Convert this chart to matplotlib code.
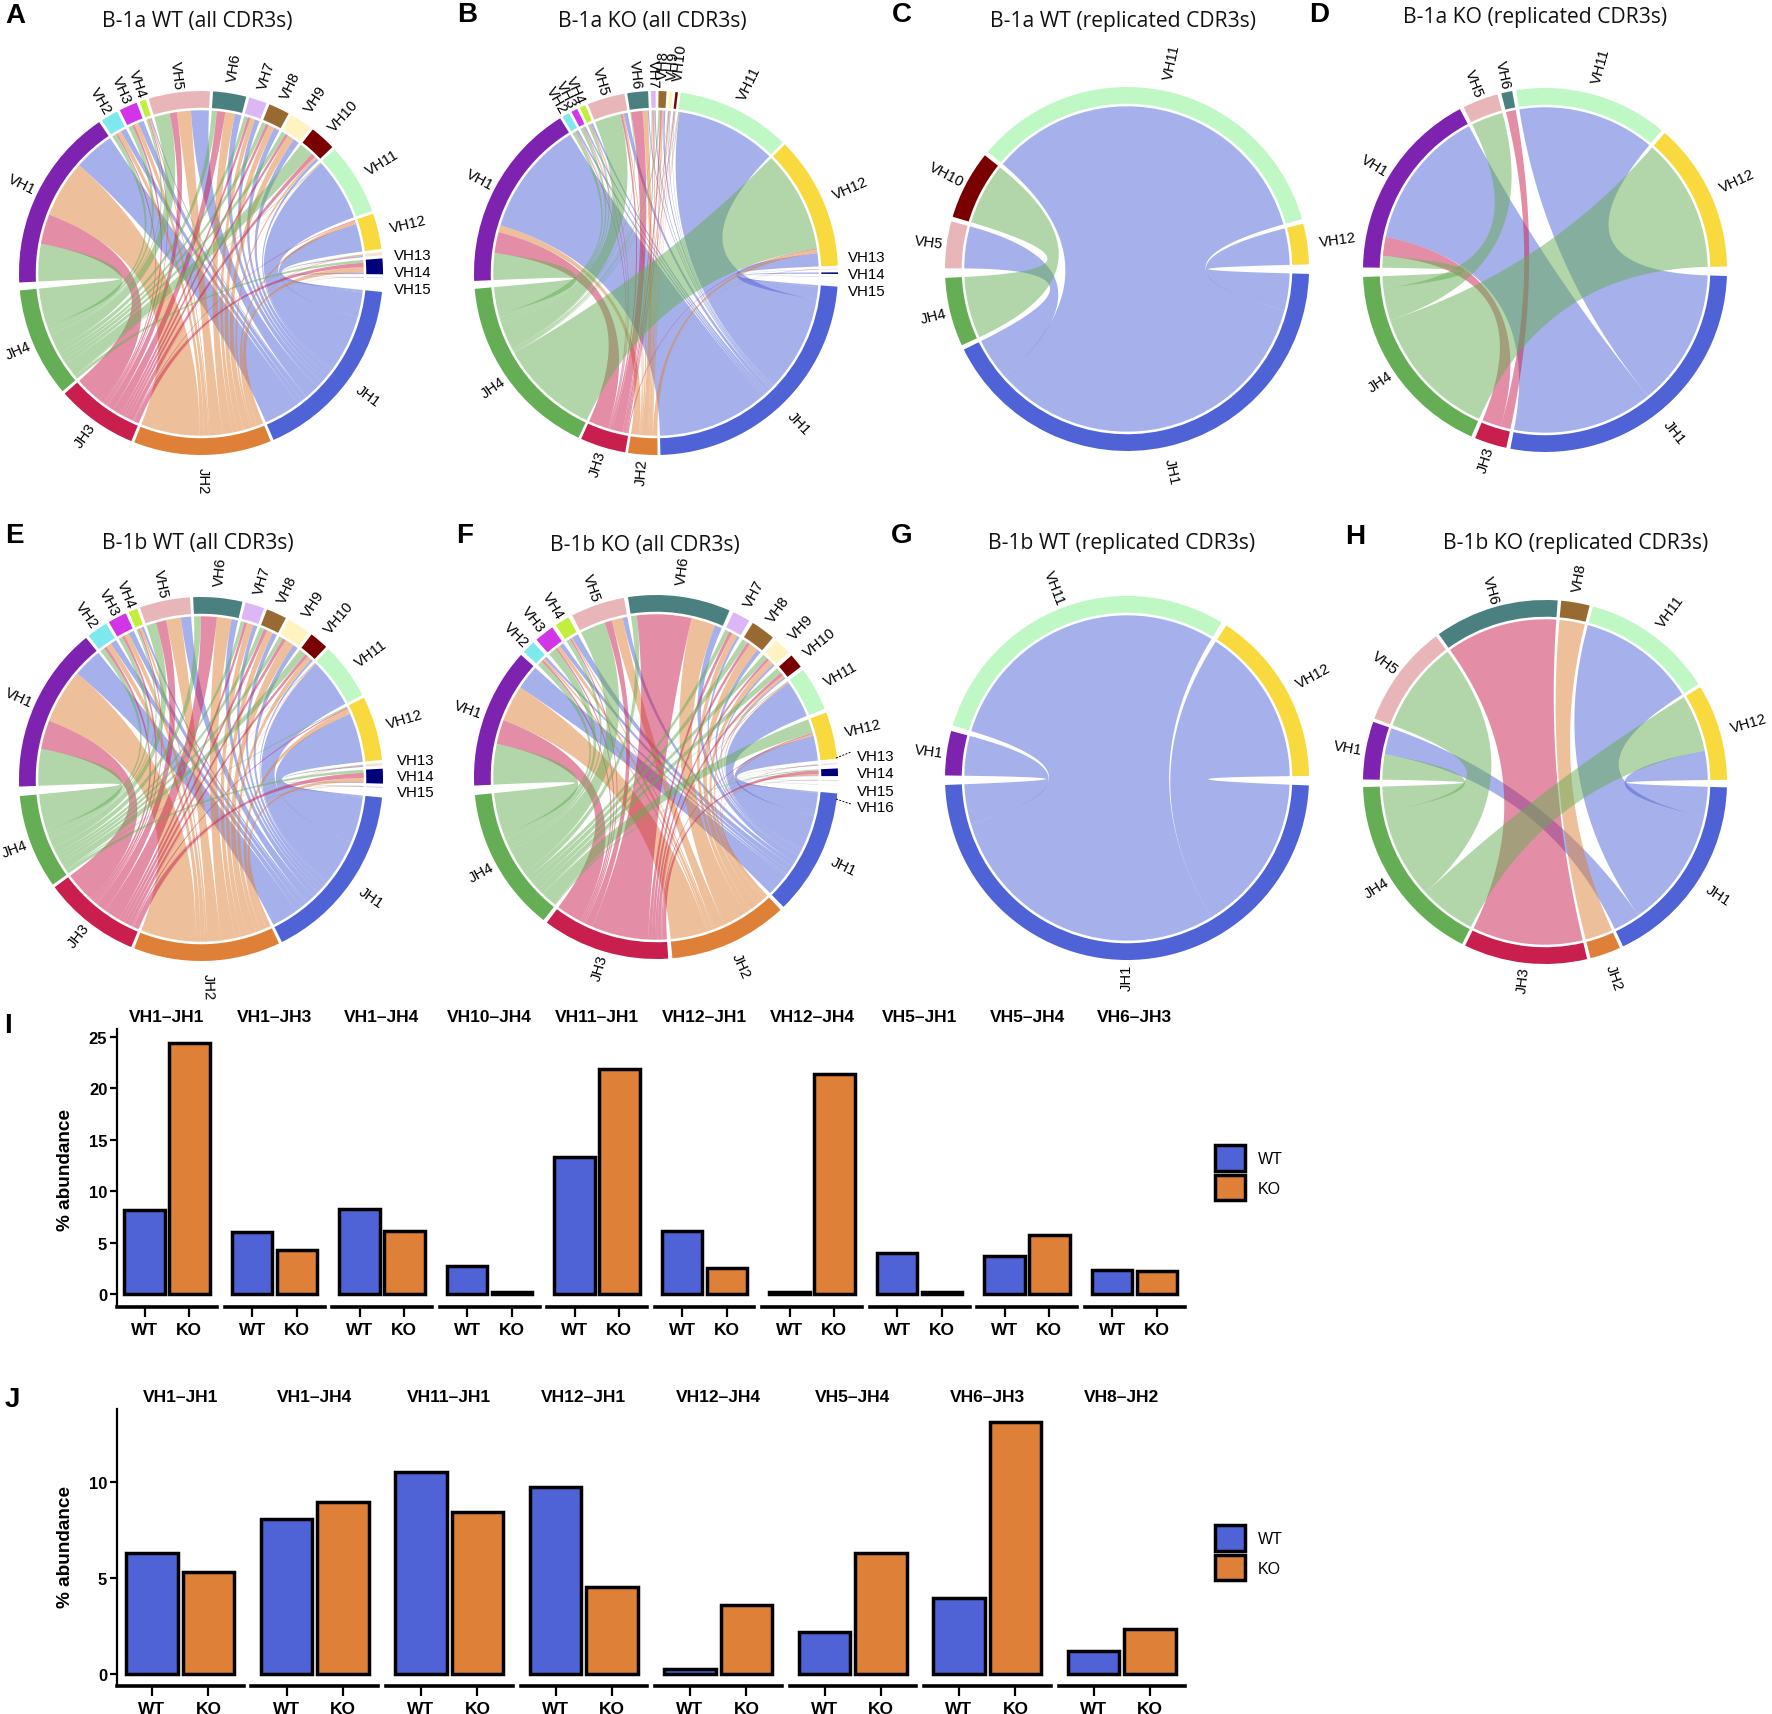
import numpy as np
import matplotlib
matplotlib.use('Agg')
import matplotlib.pyplot as plt
from matplotlib.patches import Wedge, Patch

W, H = 1772, 1715

# Chord panels: sector totals and VH x JH link tables
all_vh = ['VH%d' % i for i in range(1, 16)]
all_jh = ['JH1', 'JH2', 'JH3', 'JH4']

a_vh_totals = [59, 5.5, 5.8, 2, 19.5, 10.6, 5.7, 6.7, 7.1, 8.3, 22.8, 11.4, 1, 5, 0.3]
a_jh_totals = [60.5, 44, 26, 35]
a_links = [[14.5, 20.5, 10.7, 13.3], [2, 1.5, .5, 1.5], [2, 1.5, .8, 1.5], [.4, .5, .4, .7],
           [5.7, 4.5, 2.3, 5], [2.3, 3.5, 3, 1.8], [1.7, 1.7, 1, 1.3], [2, 2.2, 1, 1.5],
           [2.1, 2.5, 1, 1.5], [1, .8, 1.5, 5], [22.3, .1, .1, .3], [9.9, 1.2, .3, 0],
           [.4, .4, .1, .1], [.5, 2, 1.5, 1], [.1, .1, .05, .05]]

b_vh_totals = [60.5, 2.3, 2, 1.9, 11.9, 6.6, 1.5, 2.5, 1, .8, 36.2, 42.5, .3, .5, .1]
b_jh_totals = [84, 9.3, 14.5, 59.6]
b_links = [[41, 2.5, 7.5, 9.5], [.9, .2, .4, 1.5], [.7, .2, .3, 1.3], [.9, .2, .3, 1.1],
           [1.4, .5, .7, 9.3], [.4, 1.8, 3.9, .3], [.4, .4, .4, .3], [.6, .6, .7, .6],
           [.3, .3, .4, .2], [.2, .2, .4, .2], [35.7, .2, .1, .2], [4.6, 1.3, .3, 35.4],
           [.1, .1, .05, .05], [.5, 0, 0, 0], [.1, 0, 0, 0]]

c_vh = ['VH5', 'VH10', 'VH11', 'VH12']
c_jh = ['JH1', 'JH4']
c_vh_totals = [15, 22, 124, 13]
c_jh_totals = [152.3, 22]
c_links = [[15, 0], [0, 22], [124, 0], [13, 0]]

d_vh = ['VH1', 'VH5', 'VH6', 'VH11', 'VH12']
d_jh = ['JH1', 'JH3', 'JH4']
d_vh_totals = [61.4, 11.4, 3.5, 49, 47.8]
d_jh_totals = [99.2, 10.3, 64]
d_links = [[50.4, 6.8, 4.2], [0, 0, 11.4], [0, 3.5, 0], [49, 0, 0], [0, 0, 47.8]]

e_vh_totals = [53.1, 6.7, 6, 2.8, 16.1, 15.6, 6.1, 6.5, 7.6, 6, 18, 20.4, .8, 4.7, .4]
e_jh_totals = [57.6, 46.8, 30.9, 30]
e_links = [[10.4, 19.6, 10.3, 13.1], [2.2, 1.9, 1, 1.6], [2, 1.7, .9, 1.4], [.8, .8, .5, .7],
           [3.4, 5, 3.4, 3.3], [2.2, 5, 5.4, 2.3], [1.5, 2.3, 1, 1.3], [1.6, 2.2, 1.2, 1.5],
           [1.8, 3.2, 1.2, 1.4], [.7, 1.7, 1.1, 2.5], [17.5, .2, .1, .2], [17.5, 2, .5, .4],
           [.4, .2, .1, .1], [.3, 1.5, 1.8, 1.1], [.1, .1, .1, .1]]

f_vh = ['VH%d' % i for i in range(1, 17)]
f_vh_totals = [44.7, 4.2, 6.3, 4.7, 17.2, 32.6, 5.7, 7.8, 5.5, 4.6, 13.9, 14.9, .5, 2.4, .3, .1]
f_jh_totals = [40.2, 37.9, 40.6, 46]
f_links = [[8.7, 13, 8.6, 14.4], [.9, .7, .7, 1.8], [1.5, 1.3, .6, 2.9], [2.3, .5, .5, 1.4],
           [1.7, 4, 2.5, 9], [2.5, 8.5, 19, 2], [.9, 2, 1.2, 1.6], [1.4, 3.2, 1.1, 2],
           [.8, 2, .9, 1.8], [.5, .9, 1.1, 2.1], [13.2, .2, .2, .3], [8.7, .6, .4, 5],
           [.2, .1, .1, .1], [.2, .6, 1.2, .4], [.1, .1, .05, .05], [.1, 0, 0, 0]]

g_vh = ['VH1', 'VH11', 'VH12']
g_jh = ['JH1']
g_vh_totals = [14.2, 104.7, 56.4]
g_jh_totals = [175.8]
g_links = [[14.2], [104.7], [56.4]]

h_vh = ['VH1', 'VH5', 'VH6', 'VH8', 'VH11', 'VH12']
h_jh = ['JH1', 'JH2', 'JH3', 'JH4']
h_vh_totals = [18.5, 32.8, 39.7, 9.1, 42.2, 30.7]
h_jh_totals = [62.9, 9.8, 39.4, 61.3]
h_links = [[9.5, 0, 0, 9], [0, 0, 0, 32.8], [0, 0, 39.7, 0], [0, 9.1, 0, 0],
           [42.2, 0, 0, 0], [10.4, 0, 0, 20.3]]

# Bars
i_pairs = ['VH1–JH1', 'VH1–JH3', 'VH1–JH4', 'VH10–JH4', 'VH11–JH1',
           'VH12–JH1', 'VH12–JH4', 'VH5–JH1', 'VH5–JH4', 'VH6–JH3']
i_wt = [8.2, 6.0, 8.3, 2.7, 13.3, 6.1, 0.2, 4.0, 3.7, 2.3]
i_ko = [24.4, 4.3, 6.1, 0.2, 21.9, 2.5, 21.4, 0.2, 5.7, 2.2]

j_pairs = ['VH1–JH1', 'VH1–JH4', 'VH11–JH1', 'VH12–JH1',
           'VH12–JH4', 'VH5–JH4', 'VH6–JH3', 'VH8–JH2']
j_wt = [6.3, 8.05, 10.5, 9.75, 0.25, 2.2, 3.98, 1.2]
j_ko = [5.3, 8.95, 8.45, 4.55, 3.6, 6.3, 13.15, 2.33]

colors = {'VH1': '#7E22B0', 'VH2': '#7DE8EE', 'VH3': '#D334E8', 'VH4': '#C4EE3E',
          'VH5': '#E8B6B8', 'VH6': '#4A8080', 'VH7': '#DCB6F5', 'VH8': '#986A32',
          'VH9': '#FFF3C2', 'VH10': '#7A0000', 'VH11': '#BFF7C5', 'VH12': '#F8DA3E',
          'VH13': '#F4E3D0', 'VH14': '#00007A', 'VH15': '#DCD8F0', 'VH16': '#E8E8E8',
          'JH1': '#4F62D6', 'JH2': '#DF8038', 'JH3': '#C81F4F', 'JH4': '#66AE56'}
WT_COLOR = '#4F62D6'
KO_COLOR = '#DE8038'

R_PX = 182
RING_IN = 0.908
CHORD_R = 0.894

plt.rcParams['font.family'] = ['Liberation Sans', 'DejaVu Sans']
fig = plt.figure(figsize=(W / 100, H / 100), dpi=100)


def px_axes(x0, y0, x1, y1):
    return fig.add_axes([x0 / W, 1 - y1 / H, (x1 - x0) / W, (y1 - y0) / H])


def px_text(x, y, s, **kw):
    kw.setdefault('ha', 'center')
    kw.setdefault('va', 'center')
    fig.text(x / W, 1 - y / H, s, **kw)


def ribbon(ax, a1, a2, b1, b2, color):
    t = np.linspace(0, 1, 60)
    arc_a = np.radians(np.linspace(a1, a2, 30))
    arc_b = np.radians(np.linspace(b1, b2, 30))
    xa, ya = CHORD_R * np.cos(arc_a), CHORD_R * np.sin(arc_a)
    xb, yb = CHORD_R * np.cos(arc_b), CHORD_R * np.sin(arc_b)
    # quadratic curves with the control point in the middle of the circle
    x1 = (1 - t) ** 2 * xa[-1] + t ** 2 * xb[0]
    y1 = (1 - t) ** 2 * ya[-1] + t ** 2 * yb[0]
    x2 = (1 - t) ** 2 * xb[-1] + t ** 2 * xa[0]
    y2 = (1 - t) ** 2 * yb[-1] + t ** 2 * ya[0]
    ax.fill(np.concatenate([xa, x1, xb, x2]), np.concatenate([ya, y1, yb, y2]),
            facecolor=color, alpha=0.5, edgecolor='none', lw=0)


def chord(cx, cy, vh, jh, vh_totals, jh_totals, links, start, gap, gap_mid, gap_end, small=None):
    small = small or {}
    links = np.array(links, dtype=float)
    ax = px_axes(cx - 1.4 * R_PX, cy - 1.4 * R_PX, cx + 1.4 * R_PX, cy + 1.4 * R_PX)
    ax.set_xlim(-1.4, 1.4)
    ax.set_ylim(-1.4, 1.4)
    ax.axis('off')

    names = list(vh) + list(jh)
    totals = np.array(list(vh_totals) + list(jh_totals), dtype=float)
    gaps = [gap] * (len(names) - 1) + [gap_end]
    gaps[len(vh) - 1] = gap_mid
    scale = (360 - sum(gaps)) / totals.sum()

    # sectors, clockwise from VH1
    spans = {}
    ang = start
    for name, total, g in zip(names, totals, gaps):
        span = total * scale
        spans[name] = (ang, ang - span)
        ax.add_patch(Wedge((0, 0), 1.0, ang - span, ang, width=1.0 - RING_IN,
                           facecolor=colors[name], edgecolor='none'))
        mid = np.radians(ang - span / 2)
        if name in small:
            px_text(small[name][0], small[name][1], name, ha='left', fontsize=10.8)
        else:
            right = np.cos(mid) >= 0
            r = 1.065 if right else 1.02
            rot = np.degrees(mid) if right else np.degrees(mid) - 180
            ax.text(r * np.cos(mid), r * np.sin(mid), name, rotation=rot,
                    rotation_mode='anchor', ha='left' if right else 'right',
                    va='center', fontsize=10.6, clip_on=False)
        ang -= span + g

    # where each link lands in its two sectors
    vh_pos = {}
    for i, name in enumerate(vh):
        a = spans[name][0]
        span = spans[name][0] - spans[name][1]
        for j in range(len(jh) - 1, -1, -1):
            w = links[i, j] / links[i].sum() * span
            vh_pos[i, j] = (a, a - w)
            a -= w
    for j, name in enumerate(jh):
        b = spans[name][0]
        span = spans[name][0] - spans[name][1]
        for i in range(len(vh) - 1, -1, -1):
            w = links[i, j] / links[:, j].sum() * span
            if links[i, j] > 0:
                ribbon(ax, vh_pos[i, j][0], vh_pos[i, j][1], b, b - w, colors[name])
            b -= w
    return ax


chord(201, 274, all_vh, all_jh, a_vh_totals, a_jh_totals, a_links, 183, 1.0, 4.3, 2.5,
      {'VH13': (394, 256), 'VH14': (394, 273), 'VH15': (394, 290)})
chord(656, 274, all_vh, all_jh, b_vh_totals, b_jh_totals, b_links, 182.5, 0.9, 3, 2.5,
      {'VH13': (848, 258), 'VH14': (848, 275), 'VH15': (848, 292)})
chord(1127, 270, c_vh, c_jh, c_vh_totals, c_jh_totals, c_links, 179.8, 1.5, 3, 3)
chord(1545, 271, d_vh, d_jh, d_vh_totals, d_jh_totals, d_links, 179.2, 1.3, 3, 3)
chord(201, 780, all_vh, all_jh, e_vh_totals, e_jh_totals, e_links, 182.4, 1.0, 3, 3,
      {'VH13': (397, 761), 'VH14': (397, 777), 'VH15': (397, 793)})
chord(656, 778, f_vh, all_jh, f_vh_totals, f_jh_totals, f_links, 182.7, 1.3, 2.5, 3,
      {'VH13': (857, 757), 'VH14': (857, 774), 'VH15': (857, 792), 'VH16': (857, 808)})
chord(1127, 779, g_vh, g_jh, g_vh_totals, g_jh_totals, g_links, 179.2, 1.8, 3, 3)
chord(1545, 783, h_vh, h_jh, h_vh_totals, h_jh_totals, h_links, 179.2, 1.1, 2.4, 2.4)

# leader lines in F
for yy0, yy1 in [(759, 753), (800, 805)]:
    fig.add_artist(plt.Line2D([836 / W, 851 / W], [1 - yy0 / H, 1 - yy1 / H],
                              color='black', lw=0.7, ls=(0, (2, 1.5))))

titles = [(197, 22, 'B-1a WT (all CDR3s)'), (652, 22, 'B-1a KO (all CDR3s)'),
          (1123, 22, 'B-1a WT (replicated CDR3s)'), (1535, 18, 'B-1a KO (replicated CDR3s)'),
          (198, 544, 'B-1b WT (all CDR3s)'), (645, 545, 'B-1b KO (all CDR3s)'),
          (1122, 544, 'B-1b WT (replicated CDR3s)'), (1576, 544, 'B-1b KO (replicated CDR3s)')]
for x, y, s in titles:
    px_text(x, y, s, fontsize=15.2, family=['Open Sans', 'DejaVu Sans'], color='#111111')

letters = [(15, 16, 'A'), (467, 15, 'B'), (902, 15, 'C'), (1319, 15, 'D'), (14, 536, 'E'),
           (465, 536, 'F'), (902, 536, 'G'), (1355, 537, 'H'), (8, 1026, 'I'), (12, 1400, 'J')]
for x, y, s in letters:
    px_text(x, y, s, fontsize=20, fontweight='bold')


def bar_row(pairs, wt, ko, first_x, facet_w, pitch, y_top, y_bottom, y_zero, px_per_unit, yticks):
    for i, pair in enumerate(pairs):
        x0 = first_x + i * pitch
        ax = px_axes(x0, y_top, x0 + facet_w, y_bottom)
        ax.bar([0, 1], [wt[i], ko[i]], width=0.91, color=[WT_COLOR, KO_COLOR],
               edgecolor='black', linewidth=2.5)
        ax.set_xlim(-0.62, 1.62)
        ax.set_ylim((y_zero - y_bottom) / px_per_unit, (y_zero - y_top) / px_per_unit)
        ax.set_xticks([0, 1])
        ax.set_xticklabels(['WT', 'KO'], fontweight='bold', fontsize=12.5)
        ax.tick_params(axis='x', length=7, width=1.6, pad=4)
        ax.spines[['top', 'right']].set_visible(False)
        ax.spines['bottom'].set_linewidth(2.6)
        ax.set_title(pair, fontweight='bold', fontsize=12.5, pad=5.5)
        ax.patch.set_alpha(0)
        if i == 0:
            ax.spines['left'].set_linewidth(1.6)
            ax.set_yticks(yticks)
            ax.set_yticklabels([str(v) for v in yticks], fontweight='bold', fontsize=12)
            ax.tick_params(axis='y', length=5, width=1.6, pad=2)
        else:
            ax.spines['left'].set_visible(False)
            ax.set_yticks([])


bar_row(i_pairs, i_wt, i_ko, 117, 100, 107.5, 1030, 1308, 1295, 10.28, [0, 5, 10, 15, 20, 25])
bar_row(j_pairs, j_wt, j_ko, 117, 126.5, 134.5, 1410, 1687, 1675, 19.2, [0, 5, 10])

px_text(66, 1170, '% abundance', rotation=90, fontweight='bold', fontsize=13.7)
px_text(66, 1547, '% abundance', rotation=90, fontweight='bold', fontsize=13.7)

for y in [1146, 1526]:
    handles = [Patch(facecolor=WT_COLOR, edgecolor='black', linewidth=2.5, label='WT'),
               Patch(facecolor=KO_COLOR, edgecolor='black', linewidth=2.5, label='KO')]
    fig.legend(handles=handles, loc='upper left', bbox_to_anchor=(1215 / W, 1 - y / H),
               frameon=False, fontsize=11.5, handlelength=1.9, handleheight=2.1,
               labelspacing=0.25, handletextpad=0.8, borderpad=0, borderaxespad=0)

fig.savefig('out.png', dpi=100)
